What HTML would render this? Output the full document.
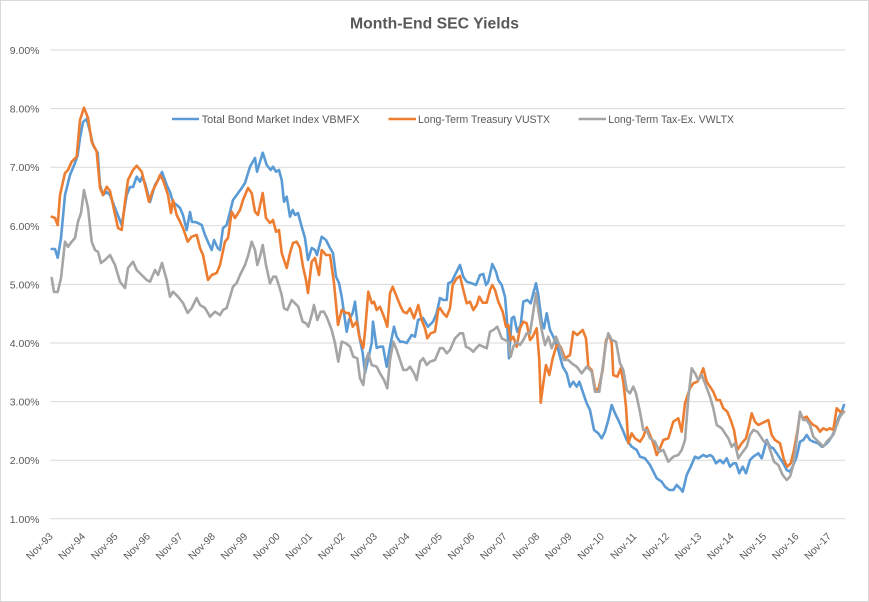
<!DOCTYPE html>
<html><head><meta charset="utf-8"><style>
html,body{margin:0;padding:0;background:#fff;}
svg{display:block;}
text{font-family:"Liberation Sans",sans-serif;fill:#595959;}
</style></head><body>
<svg width="869" height="602" viewBox="0 0 869 602" xmlns="http://www.w3.org/2000/svg">
<rect x="0.5" y="0.5" width="868" height="601" fill="#fff" stroke="#d9d9d9" stroke-width="1"/>
<text x="434.5" y="28.5" font-size="16" font-weight="bold" text-anchor="middle" textLength="169" lengthAdjust="spacingAndGlyphs">Month-End SEC Yields</text>
<g stroke="#d9d9d9" stroke-width="1">
<line x1="50" x2="845" y1="50" y2="50"/>
<line x1="50" x2="845" y1="108.6" y2="108.6"/>
<line x1="50" x2="845" y1="167.2" y2="167.2"/>
<line x1="50" x2="845" y1="225.8" y2="225.8"/>
<line x1="50" x2="845" y1="284.4" y2="284.4"/>
<line x1="50" x2="845" y1="343" y2="343"/>
<line x1="50" x2="845" y1="401.6" y2="401.6"/>
<line x1="50" x2="845" y1="460.2" y2="460.2"/>
<line x1="50" x2="845" y1="518.8" y2="518.8"/>
</g>
<g font-size="10.5" text-anchor="end">
<text x="39.5" y="54">9.00%</text>
<text x="39.5" y="112.6">8.00%</text>
<text x="39.5" y="171.2">7.00%</text>
<text x="39.5" y="229.8">6.00%</text>
<text x="39.5" y="288.4">5.00%</text>
<text x="39.5" y="347">4.00%</text>
<text x="39.5" y="405.6">3.00%</text>
<text x="39.5" y="464.2">2.00%</text>
<text x="39.5" y="522.8">1.00%</text>
</g>
<g font-size="10.2" text-anchor="end">
<text transform="translate(53.5,537) rotate(-45)">Nov-93</text>
<text transform="translate(85.9,537) rotate(-45)">Nov-94</text>
<text transform="translate(118.4,537) rotate(-45)">Nov-95</text>
<text transform="translate(150.8,537) rotate(-45)">Nov-96</text>
<text transform="translate(183.2,537) rotate(-45)">Nov-97</text>
<text transform="translate(215.7,537) rotate(-45)">Nov-98</text>
<text transform="translate(248.1,537) rotate(-45)">Nov-99</text>
<text transform="translate(280.5,537) rotate(-45)">Nov-00</text>
<text transform="translate(312.9,537) rotate(-45)">Nov-01</text>
<text transform="translate(345.4,537) rotate(-45)">Nov-02</text>
<text transform="translate(377.8,537) rotate(-45)">Nov-03</text>
<text transform="translate(410.2,537) rotate(-45)">Nov-04</text>
<text transform="translate(442.7,537) rotate(-45)">Nov-05</text>
<text transform="translate(475.1,537) rotate(-45)">Nov-06</text>
<text transform="translate(507.5,537) rotate(-45)">Nov-07</text>
<text transform="translate(540,537) rotate(-45)">Nov-08</text>
<text transform="translate(572.4,537) rotate(-45)">Nov-09</text>
<text transform="translate(604.8,537) rotate(-45)">Nov-10</text>
<text transform="translate(637.2,537) rotate(-45)">Nov-11</text>
<text transform="translate(669.7,537) rotate(-45)">Nov-12</text>
<text transform="translate(702.1,537) rotate(-45)">Nov-13</text>
<text transform="translate(734.5,537) rotate(-45)">Nov-14</text>
<text transform="translate(767,537) rotate(-45)">Nov-15</text>
<text transform="translate(799.4,537) rotate(-45)">Nov-16</text>
<text transform="translate(831.8,537) rotate(-45)">Nov-17</text>
</g>
<g fill="none" stroke-width="2.6" stroke-linejoin="round" stroke-linecap="round">
<polyline stroke="#5B9BD5" points="51.7,249 55,249 57.7,257.7 61,238 65,195 70,175 75,163 77.7,155 80,138 83,122 86.7,119 90,131.7 93,145 97.7,153 100,185 103,195 106.7,192 110,195 115,208 121.7,225 126.7,195 130,187 133,187 136.7,176.7 140,181.7 142,177 145,183 150,202 155,185 160,176.7 162,172 166.7,185 170,192 173,202 176.7,205 180,208 183,215 186.7,230 190,212 192,222 195,222 198,223 201.7,225 205,235 208,242 211.7,250 214,240 217.7,248 220,250 223,228 226.7,225 230,212 233,200 236.7,195 241.7,188 245,183 250,166.7 255,158 257,171.7 262.7,152.7 266.7,165 270.7,170 273,166.7 276,171.7 279,170 281.7,180 284,201.7 286.7,196.7 290,216.7 292.7,210 295,215 298,213 301.7,226.7 305,238 308,260 311.7,248 315,250 317,255 321.7,236.7 326,240 330,248 333,253 336,276.7 339,283 341.7,296.7 345,320 346.7,331.7 349,320 352.7,313 355,301.7 357.3,321.7 360,340 362.7,353 365,373 368,360 371.7,343 373,321.7 376.7,348 380,346.7 383,346.7 386.7,366.7 390,346.7 394,326.7 396.7,336.7 400,341.7 403,341.7 406.7,343 411.7,335 415,336.7 418,320 423,318 428,326.7 433,321.7 436.7,313 440,298 443.3,300 446.7,300 448.3,283.3 451.7,281.7 455,275 460,265 463.3,276.7 466.7,281.7 471.7,283.3 476,285 480,275 483.3,274 486,285 488.3,281.7 492.3,264 496,271.7 498.3,280 501.7,285 505,296.7 506.7,316.7 507.7,333.3 509,358.3 511.7,318.3 514,316.7 517.3,331.7 520.7,325 523.3,301.7 527.3,300 530.7,303.3 533.3,293.3 536,283.3 538.3,295 541.7,321.7 544,328.3 546.7,313.3 550,330 553.3,336.7 558.3,350 562.7,366.7 566.7,373.3 570,386.7 573.3,381.7 576.7,386.7 579.3,381.7 582.7,391.7 586.7,403.3 590,410 594,430 598.3,433.3 601.7,438.3 605,431.7 608.3,420 611.7,405 615,413.3 618.3,420 622.7,430 626.7,440 631.7,446.7 636.7,450 640,456.7 645,458.3 650,465 656.7,478.3 661.7,481.7 665,486.7 669.3,490 673.3,490 676.7,485 680,488.3 682.7,491.7 686.7,475 690.7,466.7 695,456.7 698.3,458.3 703.3,455 706.7,456.7 710,455 712.7,456.7 716,463.3 720,460 723.3,463.3 726.7,458.3 730,466.7 733.3,463.3 736,463.3 739.3,473.3 742.7,466.7 746,473.3 750,460 753.3,456.7 758.3,453.3 761.7,458.3 764,450 766.7,440 770,446.7 773.3,448.3 776.7,453.3 780,458.3 783.3,463.3 786.7,470 790,471.7 793.3,465 796.7,456.7 800,441.7 803.3,440 806.7,435 810,440 813.3,441.7 818.3,443.3 821.7,446.7 825,445 828.3,441.7 831.7,436.7 835,430 838.3,418.3 841.7,411.7 844,405"/>
<polyline stroke="#ED7D31" points="51.7,216.7 55,218 57.7,225 60,195 65,173 68,170 71.7,161.7 76.7,156.7 78,141.7 80,120 84,107.7 88,118 91.7,141.7 96.7,151.7 100,188 103,195 106.7,186.7 110,191 113,205 118,228 121.7,230 125,202 128,180 133,170 136.7,165.7 141.7,171.7 145,185 149,201.7 153,190 156.7,183 160,175 163,180 168,195 171,213 173,200 176.7,215 180,221.7 183,228 187.7,241.7 191.7,236.7 196.7,235 200,248 203,255 208,280 211.7,275 216.7,273 220,265 225,241.7 228,238 231.7,211.7 235,218 240,210 243,200 248,188 251.7,193 255,211.7 258,215 262.7,193 266,218 270,223 273,220 276,231.7 279,230 281.7,253 286.7,268 290,253 293,243 296.7,241.7 300,248 303,266.7 306,280 308,293 311.7,261.7 315,258 319,275 321.7,250 326,255 330,255 334,283 338,325 341.7,310 346,313 349,313 352.7,326.7 356.7,321.7 359.3,336.7 363.3,348 365,331.7 368.3,291.7 371.7,303.3 374,301.7 376.7,310 380,306.7 384,316.7 387.3,326.7 390,293.3 392.7,286.7 396.7,296.7 400,305 403.3,311.7 406.7,313.3 410,308.3 414,318.3 418.3,305 421.7,320 425,328.3 427.3,338.3 430.7,333.3 435,331.7 438.3,310 440,308 443.3,313.3 446.7,316.7 450,308.3 452.7,285 456.7,278.3 460,276 463.3,290 466.7,303.3 470,301.7 473.3,310 476.7,305 479.3,296.7 482.7,302.7 486.7,302.7 490,290 492.3,285 495,290 498.3,301.7 502.7,311.7 506,326.7 508.3,325 510.7,340 513.3,336.7 516.7,346.7 520,328.3 523.3,321.7 526.7,323.3 530,340 532.7,336.7 536.7,328.3 539.3,360 540.7,402.7 543.3,383.3 546,365 549.3,375 552.7,358.3 556.7,345 560.7,346.7 565,358.3 570,355 573.3,331.7 577.3,335 582.7,330 586,338.3 588.3,366.7 591.7,370 595,388.3 598.3,390 602.7,370 606,340 609.3,335 611.7,343.3 613.3,375 617.3,376.7 620.7,368.3 623.3,381.7 626,406.7 628.3,443.3 631.7,433.3 635,438.3 640,441.7 643.3,436.7 646.7,427.3 650,435 653.3,443.3 656.7,455 660,448.3 663.3,440 668.3,438.3 673.3,421.7 678.3,418.3 681.7,431.7 685,403.3 690,388.3 693.3,383.3 697.3,381.7 700,376.7 703.3,368.3 706.7,381.7 710,386.7 713.3,391.7 716.7,400 720,400 723.3,408.3 727.3,411.7 730.7,420 734,430 737.3,450 741.7,443.3 746,438.3 749.3,425 751.7,413.3 755,421.7 758.3,425 761.7,423.3 765,421.7 768.3,420 771.7,435 775,440 780,443.3 784,460 787.3,466.7 790.7,463.3 794,450 797.3,431.7 800,413.3 803.3,418.3 806.7,416.7 810,421.7 813.3,425 816.7,426.7 820,431.7 823.3,428.3 826.7,430 830,428.3 833.3,430 836.7,408.3 840,411.7 844,411.7"/>
<polyline stroke="#A5A5A5" points="51.7,278 54,292 57.7,292 61,278 65,241.7 68,246.7 71.7,241.7 75,238 78,221.7 81,213 84,190 88,208 91.7,241.7 95,250 98,251.7 101,263 105,260 110,255 115,265 120,281.7 125,288 128,268 133,261.7 136.7,270 141.7,275 146.7,280 150,281.7 155,270 158,275 162,263 166.7,280 170,296.7 173,291.7 178,296.7 183,303 187.7,313 191.7,308 196.7,298 200,305 205,308 210,316.7 215,311.7 220,315 223,310 226.7,308 230,296.7 233,286.7 236.7,283 240,275 245,265 248.3,255 251.7,241.7 255,250 257.3,265 260,256.7 262.7,245 266,265 270,283.3 273.3,276.7 276,276.7 279.3,286.7 281.7,295 284,308.3 287.3,310 291.7,300 295,303.3 298.3,306.7 302.7,321.7 306,323.3 308.3,326.7 311.7,315 314,305 317.3,320 320.7,311.7 324,311.7 327.3,318.3 331.7,330 335,343.3 338.3,361.7 341.7,341.7 346,343.3 350,346.7 353.3,356.7 357.3,358.3 360,378.3 363.3,385 366,360 368.3,353.3 371.7,365 376.7,366.7 380,373.3 384,380 387.3,388.3 390,360 393.3,341.7 396.7,350 400,360 403.3,370 406.7,370 410,366.7 414,373.3 416.7,380 420,361.7 423.3,358.3 426.7,365 430,361.7 435,360 440,348 443.3,348.3 446.7,353.3 450,350 455,338.3 460,333.3 463,333.3 466,346.7 469.3,348.3 473.3,351.7 476,348.3 479.3,345 483.3,346.7 486.7,348.3 490,331.7 493.3,330 497.3,326.7 501.7,338.3 505,340 508.3,341.7 510.7,356.7 513.3,346.7 516.7,341.7 520,345 523.3,340 526.7,333.3 530,333.3 533.3,311.7 536,293.3 538.3,310 541.7,330 545,345 548.3,336.7 551.7,348.3 556,336.7 560,346.7 564,360 568.3,360 571.7,363.3 576.7,366.7 581.7,373.3 586.7,366.7 591.7,371.7 595,391.7 599.3,391.7 602.7,366.7 606,343.3 608.3,333.3 611.7,340 616,341.7 620,363.3 623.3,370 626.7,390 630,393.3 633.3,386.7 636,393.3 640,412 643.3,430 646.7,430 650,438.3 655,441.7 659.3,451.7 663.3,450 668.3,461.7 673.3,456.7 678.3,455 681.7,450 685,440 688.3,398.3 691.7,368.3 695,373.3 698.3,380 701.7,375 705,383.3 710,396.7 713.3,408.3 716.7,425 721.7,428.3 725,433.3 728.3,438.3 731.7,446.7 735,443.3 738.3,458.3 741.7,453.3 746.7,446.7 750,435 753.3,430 757.3,431.7 760.7,436.7 764,441.7 767.3,441.7 770.7,451.7 774,461.7 778.3,465 782.7,475 786.7,480 790,476.7 793.3,465 796.7,440 800,411.7 803.3,420 806.7,420 810,425 813.3,436.7 816.7,440 820,443.3 823.3,446.7 826.7,441.7 830,438.3 833.3,435 836.7,425 840,416.7 844,411.7"/>
</g>
<g stroke-width="2.6" stroke-linecap="butt">
<line x1="172" x2="199" y1="119" y2="119" stroke="#5B9BD5"/>
<line x1="388.5" x2="416" y1="119" y2="119" stroke="#ED7D31"/>
<line x1="578.5" x2="606" y1="119" y2="119" stroke="#A5A5A5"/>
</g>
<g font-size="11">
<text x="201.7" y="123" textLength="158" lengthAdjust="spacingAndGlyphs">Total Bond Market Index VBMFX</text>
<text x="418" y="123" textLength="132" lengthAdjust="spacingAndGlyphs">Long-Term Treasury VUSTX</text>
<text x="608.3" y="123" textLength="125.7" lengthAdjust="spacingAndGlyphs">Long-Term Tax-Ex. VWLTX</text>
</g>
</svg>
</body></html>
